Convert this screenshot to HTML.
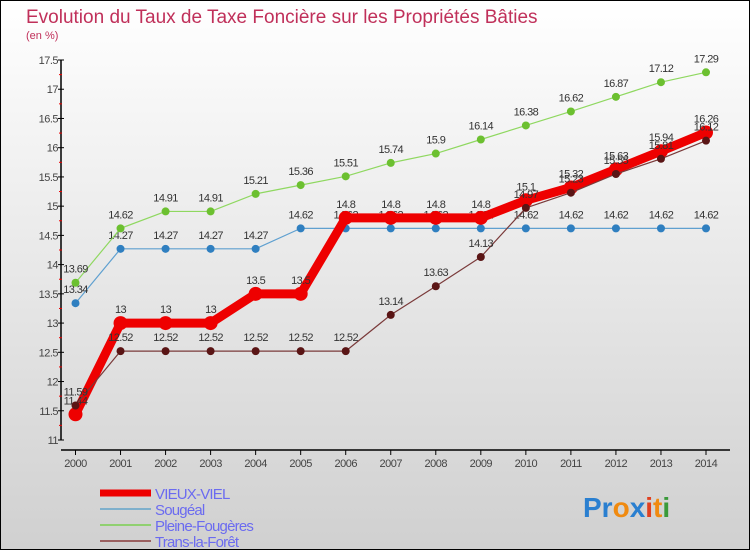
<!DOCTYPE html>
<html><head><meta charset="utf-8"><style>
body{margin:0}
#c{position:relative;width:750px;height:550px;}
svg text{font-family:"Liberation Sans",sans-serif;}
</style></head><body>
<div id="c">
<svg id="s" width="750" height="550" xmlns="http://www.w3.org/2000/svg">
<defs><linearGradient id="bg" x1="0" y1="0" x2="0" y2="1"><stop offset="0" stop-color="#ffffff"/><stop offset="1" stop-color="#d0d0d0"/></linearGradient></defs>
<rect x="0.5" y="0.5" width="749" height="549" fill="url(#bg)" stroke="#000"/>
<text x="26" y="23" font-size="19" fill="#c0305a">Evolution du Taux de Taxe Foncière sur les Propriétés Bâties</text>
<text x="26" y="39" font-size="11" fill="#c0305a">(en %)</text>
<g id="axes"></g><g id="series"></g><g id="legend"></g>
<text x="583" y="517" font-size="28" font-weight="bold"><tspan fill="#2a7fd0">Pr</tspan><tspan fill="#f08a10">o</tspan><tspan fill="#2a7fd0">x</tspan><tspan fill="#e04020">i</tspan><tspan fill="#f08a10">t</tspan><tspan fill="#3a9a3a">i</tspan></text>
</svg></div>
<script>
const years=[2000,2001,2002,2003,2004,2005,2006,2007,2008,2009,2010,2011,2012,2013,2014];
const vieuxViel=[11.44,13,13,13,13.5,13.5,14.8,14.8,14.8,14.8,15.1,15.32,15.63,15.94,16.26];
const sougeal=[13.34,14.27,14.27,14.27,14.27,14.62,14.62,14.62,14.62,14.62,14.62,14.62,14.62,14.62,14.62];
const pleine=[13.69,14.62,14.91,14.91,15.21,15.36,15.51,15.74,15.9,16.14,16.38,16.62,16.87,17.12,17.29];
const trans=[11.59,12.52,12.52,12.52,12.52,12.52,12.52,13.14,13.63,14.13,14.97,15.23,15.55,15.81,16.12];
const yTicks=[11,11.5,12,12.5,13,13.5,14,14.5,15,15.5,16,16.5,17,17.5];
const NS="http://www.w3.org/2000/svg";
function X(i){return 75.5+i*(706-75.5)/14;}
function Y(v){return 60+(17.5-v)*(380/6.5);}
function mk(t,a,p){const e=document.createElementNS(NS,t);for(const k in a)e.setAttribute(k,a[k]);p.appendChild(e);return e;}
const ax=document.getElementById('axes');
const yl=mk('line',{x1:61,y1:Y(17.5),x2:61,y2:Y(11),stroke:'#000','stroke-width':1.5},ax);


const xl=mk('line',{x1:61,y1:450,x2:730,y2:450,stroke:'#000','stroke-width':1.5},ax);


yTicks.forEach((v,i)=>{
 mk('line',{x1:58,y1:Y(v),x2:64,y2:Y(v),stroke:'#000'},ax);
 if(i<yTicks.length-1) mk('line',{x1:59,y1:Y(v+0.25),x2:62,y2:Y(v+0.25),stroke:'#e00'},ax);
 const t=mk('text',{x:58,y:Y(v)+4,'font-size':11,'text-anchor':'end',fill:'#444','letter-spacing':'-0.5'},ax);
 t.textContent=String(v);
 
 
});
years.forEach((yr,i)=>{
 mk('line',{x1:X(i),y1:450,x2:X(i),y2:455,stroke:'#000'},ax);
 const t=mk('text',{x:X(i),y:467,'font-size':11,'text-anchor':'middle',fill:'#444','letter-spacing':'-0.5'},ax);
 t.textContent=yr;
 
 
});
const sg=document.getElementById('series');
function series(vals,color,w,r,dot,name){
 const g=mk('g',{},sg);
 
 
 const pl=mk('polyline',{points:vals.map((v,i)=>X(i)+','+Y(v)).join(' '),fill:'none',stroke:color,'stroke-width':w,'stroke-linejoin':'round'},g);
 
 
 vals.forEach((v,i)=>{
  const c=mk('circle',{cx:X(i),cy:Y(v),r:r,fill:dot},g);
  
  
  const t=mk('text',{x:X(i),y:Y(v)-10,'font-size':11,'text-anchor':'middle',fill:'#333','letter-spacing':'-0.6'},g);
  t.textContent=String(v);
  
  
 });
}
series(sougeal,'#5fa0d0',1.2,4,'#2f7fc0','sougeal');
series(pleine,'#8fd860',1.2,4,'#6cc030','pleine-fougeres');
series(vieuxViel,'#ee0000',9,7,'#ee0000','vieux-viel');
series(trans,'#7a3a3a',1.2,4,'#5a1515','trans-la-foret');
const lg=document.getElementById('legend');
[['VIEUX-VIEL','#ee0000',7],['Sougéal','#7fb0cc',2],['Pleine-Fougères','#90d070',2],['Trans-la-Forêt','#9a6060',2]].forEach((d,i)=>{
 const y=493+i*16;
 const l=mk('line',{x1:100,y1:y,x2:151,y2:y,stroke:d[1],'stroke-width':d[2]},lg);
 
 
 const t=mk('text',{x:155,y:y+6,'font-size':15,fill:'#6b6bf0','letter-spacing':'-0.8'},lg);
 t.textContent=d[0];
 
 
});
</script>
</body></html>
